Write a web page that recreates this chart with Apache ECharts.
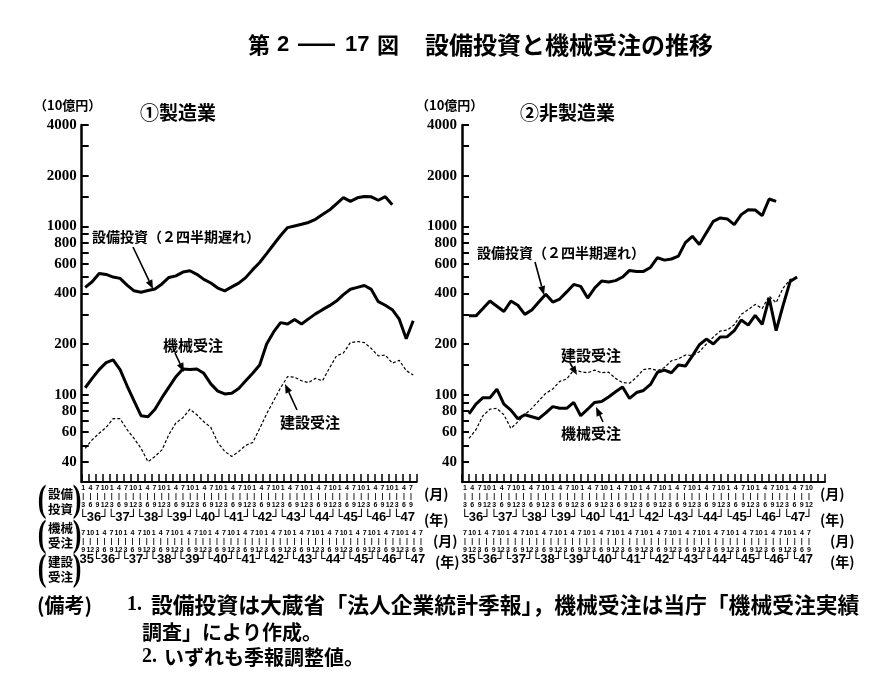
<!DOCTYPE html>
<html><head><meta charset="utf-8">
<script src="https://cdn.jsdelivr.net/npm/echarts@6/dist/echarts.min.js"></script>
<style>html,body{margin:0;padding:0;background:#fff}#c{width:882px;height:679px}</style>
</head><body><div id="c"></div>
<script>
// ---------- data (10億円, quarterly, seasonally adjusted) ----------
// 製造業
const mfgCapex   = [434,469,525,518,500,491,448,414,406,416,425,455,497,508,535,545,519,484,461,430,414,437,460,496,553,610,689,780,882,983,1006,1029,1055,1101,1175,1249,1362,1480,1406,1477,1503,1497,1429,1500,1345];
const mfgMachine = [110,125,141,155,161,141,113,92,75,74,82,96,111,128,142,141,142,134,116,105,101,102,109,121,134,150,200,236,268,263,280,263,282,302,320,338,360,393,423,434,445,422,357,340,320,281,215,275];
const mfgConstr  = [48,54,59,64,72,72,62,55,48,40,43,47,58,68,73,82,76,69,64,52,46,43,46,50,52,63,77,92,110,128,127,121,118,125,121,144,170,177,204,207,204,188,170,172,154,160,139,131];
// 非製造業
const nonCapex   = [294,294,325,360,335,312,360,340,300,319,355,395,355,370,408,452,440,375,430,473,467,476,500,547,540,540,570,651,630,640,665,800,873,780,915,1071,1122,1107,1024,1174,1256,1250,1157,1454,1406];
const nonMachine = [77,88,96,96,108,88,81,72,76,74,72,78,85,83,83,90,75,82,90,91,97,104,111,95,103,106,115,136,140,135,150,148,170,198,214,200,220,221,240,278,259,296,262,375,240,340,470,500];
const nonConstr  = [55,62,75,82,83,76,63,69,76,83,92,102,108,120,124,140,137,135,140,135,136,125,118,117,127,141,143,139,145,159,163,172,171,180,200,220,239,242,260,300,320,344,325,385,352,430,484,497];
// y axis (log scale)
const yLabelValues = [4000,2000,1000,800,600,400,200,100,80,60,40];
const yTickValues  = [4000,3000,2000,1500,1000,900,800,700,600,500,400,300,200,150,100,90,80,70,60,50,40];
const Y_MIN = 30.3, Y_MAX = 4000;

// ---------- helpers ----------
function quarters(startYear, startQ, n){
  const out=[]; let y=startYear, q=startQ;
  for(let i=0;i<n;i++){ out.push({y,q}); q++; if(q>4){q=1;y++;} }
  return out;
}
const monthText = qq => { const s=(qq.q-1)*3+1, e=qq.q*3; return s+'\n|\n'+e; };
function yearSlots(seq){
  const txt = new Array(seq.length*2-1).fill('');
  const groups = {};
  seq.forEach((qq,i)=>{ (groups[qq.y]=groups[qq.y]||[]).push(i); });
  Object.keys(groups).forEach(y=>{
    const idx=groups[y], first=idx[0], last=idx[idx.length-1];
    let t;
    if(idx.length===4) t='{b|└}'+y+'{b|┘}';
    else if(first===0) t=String(y);
    else t='{b|└}'+y;
    txt[first+last]=t;
  });
  return txt;
}
const lg = v => Math.log10(v);

const lCapexQ = quarters(36,1,47), lMachQ = quarters(35,3,49);
const rCapexQ = quarters(36,1,48), rMachQ = quarters(35,3,49);
const lDataCats = quarters(35,3,48).map(q=>q.y+'-'+q.q);
const rDataCats = quarters(35,2,53).map(q=>q.y+'-'+q.q);

const numFont = "'Liberation Serif', serif";
const smallFont = "'Liberation Sans Narrow','Liberation Sans', sans-serif";
const jp = "'Noto Sans CJK JP', sans-serif";

function monthAxis(grid, seq, margin){
  return {gridIndex:grid, type:'category', position:'bottom', data:seq.map((q,i)=>'m'+i), boundaryGap:false,
    axisLine:{show:false, onZero:false}, axisTick:{show:false}, splitLine:{show:false},
    axisLabel:{interval:0, margin, color:'#000', fontSize:7, lineHeight:8.5, fontWeight:'bold', fontFamily:smallFont,
      formatter:(v,i)=>monthText(seq[i])}};
}
function yearAxis(grid, seq, margin){
  const txt=yearSlots(seq);
  return {gridIndex:grid, type:'category', position:'bottom', data:txt.map((t,i)=>'s'+i), boundaryGap:false,
    axisLine:{show:false, onZero:false}, axisTick:{show:false}, splitLine:{show:false},
    axisLabel:{interval:0, margin, color:'#000', fontSize:13, fontWeight:'bold', fontFamily:"'Liberation Sans', sans-serif",
      formatter:(v,i)=>txt[i], rich:{b:{fontSize:13, fontFamily:"'DejaVu Sans', sans-serif", fontWeight:'bold', color:'#000'}}}};
}
function labelYAxis(grid){
  return {gridIndex:grid, type:'value', min:lg(Y_MIN), max:lg(Y_MAX), position:'left',
    axisLine:{show:true, onZero:false, lineStyle:{color:'#000', width:2.5}},
    axisTick:{show:true, inside:true, length:7, lineStyle:{color:'#000', width:2}, customValues:yTickValues.map(lg)},
    axisLabel:{customValues:yLabelValues.map(lg), margin:5, color:'#000', fontSize:15, fontWeight:'bold', fontFamily:numFont,
      formatter:v=>String(Math.round(Math.pow(10,v)))},
    splitLine:{show:false}};
}
function logYAxis(grid){
  return {gridIndex:grid, type:'log', logBase:10, min:Y_MIN, max:Y_MAX, position:'right', show:false};
}
function dataXAxis(grid, cats, gap){
  return {gridIndex:grid, type:'category', position:'bottom', data:cats, boundaryGap:gap,
    axisLine:{show:true, onZero:false, lineStyle:{color:'#000', width:2}},
    axisTick:{show:true, inside:true, interval:0, length:8, lineStyle:{color:'#000', width:1.5}},
    axisLabel:{show:false}, splitLine:{show:false}};
}
const hiddenY = g => ({gridIndex:g, type:'value', show:false});

function arrow(x1,y1,x2,y2){
  const a=Math.atan2(y2-y1,x2-x1), L=9, W=3.5;
  const bx=x2-L*Math.cos(a), by=y2-L*Math.sin(a);
  const px=-Math.sin(a)*W, py=Math.cos(a)*W;
  return [
    {type:'line', shape:{x1,y1,x2:bx,y2:by}, style:{stroke:'#000', lineWidth:1.6}},
    {type:'polygon', shape:{points:[[x2,y2],[bx+px,by+py],[bx-px,by-py]]}, style:{fill:'#000'}}
  ];
}
function txt(text,x,y,size,opt){
  opt=opt||{};
  return {type:'text', style:Object.assign({text, x, y, fontSize:size, fontFamily:jp, fontWeight:'bold', fill:'#000', align:'left', verticalAlign:'middle'}, opt)};
}
function paren(x,y,ch){
  return {type:'text', x, y, scaleY:1.45, style:{text:ch, x:0, y:0, fontSize:26, fontWeight:'bold', fontFamily:"'Liberation Serif', serif", fill:'#000', align:'center', verticalAlign:'middle'}};
}

const solid = {color:'#000', width:3};
const dashed = {color:'#000', width:1.2, type:[3,2]};
function line(xi, yi, data, style){
  return {type:'line', xAxisIndex:xi, yAxisIndex:yi, data, symbol:'none', showSymbol:false, color:'#000', lineStyle:style, silent:true, animation:false, z:3};
}

const graphics = [
  // title
  txt('第',248,45,22),
  txt('2',277,45,22,{fontFamily:"'Liberation Sans', sans-serif"}),
  {type:'rect', shape:{x:298,y:43.5,width:37,height:2.6}, style:{fill:'#000'}},
  txt('17',345,45,22,{fontFamily:"'Liberation Sans', sans-serif"}),
  txt('図',377,45,22),
  txt('設備投資と機械受注の推移',425,45,24),
  // panel headings
  txt('（10億円）',34,105,13),
  txt('①製造業',140,113,19),
  txt('（10億円）',416,105,13),
  txt('②非製造業',520,113,19),
  // annotations
  txt('設備投資（２四半期遅れ）',92,237,14),
  txt('機械受注',163,345,15),
  txt('建設受注',280,422,15),
  txt('設備投資（２四半期遅れ）',477,253,14),
  txt('建設受注',561,355,15),
  txt('機械受注',561,433,15),
  ...arrow(133,247,153,289),
  ...arrow(175,353,184,372),
  ...arrow(297,410,285,384),
  ...arrow(535,262,544,295),
  ...arrow(570,363,577,375),
  ...arrow(603,422,596,407),
  // row captions
  paren(42,501,'('), txt('設備',48,494,12.5), txt('投資',48,509,12.5), paren(77,501,')'),
  paren(42,536,'('), txt('機械',48,528,12.5), txt('受注',48,543,12.5), paren(77,536,')'),
  paren(42,570,'('), txt('建設',48,562,12.5), txt('受注',48,577,12.5), paren(77,570,')'),
  // units
  txt('(月)',424,494,14), txt('(年)',424,520,14),
  txt('(月)',433,541,14), txt('(年)',435,562,14),
  txt('(月)',820,494,14), txt('(年)',820,520,14),
  txt('(月)',830,541,14), txt('(年)',830,562,14),
  // notes
  txt('(備考)',37,605,20),
  txt('1.',127,605,20,{fontFamily:"'Liberation Serif', serif"}),
  txt('設備投資は大蔵省「法人企業統計季報」，機械受注は当庁「機械受注実績',151,605,21.8),
  txt('調査」により作成。',142,632,20),
  txt('2.',142,657,20,{fontFamily:"'Liberation Serif', serif"}),
  txt('いずれも季報調整値。',164,657,20),
];

const option = {
  backgroundColor:'#fff',
  animation:false,
  grid:[
    {left:81.7, top:125, width:335, height:357, outerBoundsMode:'none'},
    {left:462, top:125, width:363, height:357, outerBoundsMode:'none'},
    {left:83.3, top:481, width:327.7, height:1, outerBoundsMode:'none'},
    {left:83.3, top:526, width:337.7, height:1, outerBoundsMode:'none'},
    {left:465, top:481, width:344, height:1, outerBoundsMode:'none'},
    {left:465, top:526, width:344, height:1, outerBoundsMode:'none'}
  ],
  xAxis:[
    dataXAxis(0, lDataCats, true),
    dataXAxis(1, rDataCats, false),
    monthAxis(2, lCapexQ, 1.5), yearAxis(2, lCapexQ, 29),
    monthAxis(3, lMachQ, 1.5),  yearAxis(3, lMachQ, 26),
    monthAxis(4, rCapexQ, 1.5), yearAxis(4, rCapexQ, 29),
    monthAxis(5, rMachQ, 1.5),  yearAxis(5, rMachQ, 26)
  ],
  yAxis:[
    logYAxis(0), labelYAxis(0),
    logYAxis(1), labelYAxis(1),
    hiddenY(2), hiddenY(3), hiddenY(4), hiddenY(5)
  ],
  series:[
    line(0,0,mfgCapex,solid),
    line(0,0,mfgMachine,solid),
    line(0,0,mfgConstr,dashed),
    line(1,2,[null].concat(nonCapex),solid),
    line(1,2,[null].concat(nonMachine),solid),
    line(1,2,[null].concat(nonConstr),dashed)
  ],
  graphic:graphics
};
const chart = echarts.init(document.getElementById('c'), null, {renderer:'canvas'});
chart.setOption(option);
</script></body></html>
